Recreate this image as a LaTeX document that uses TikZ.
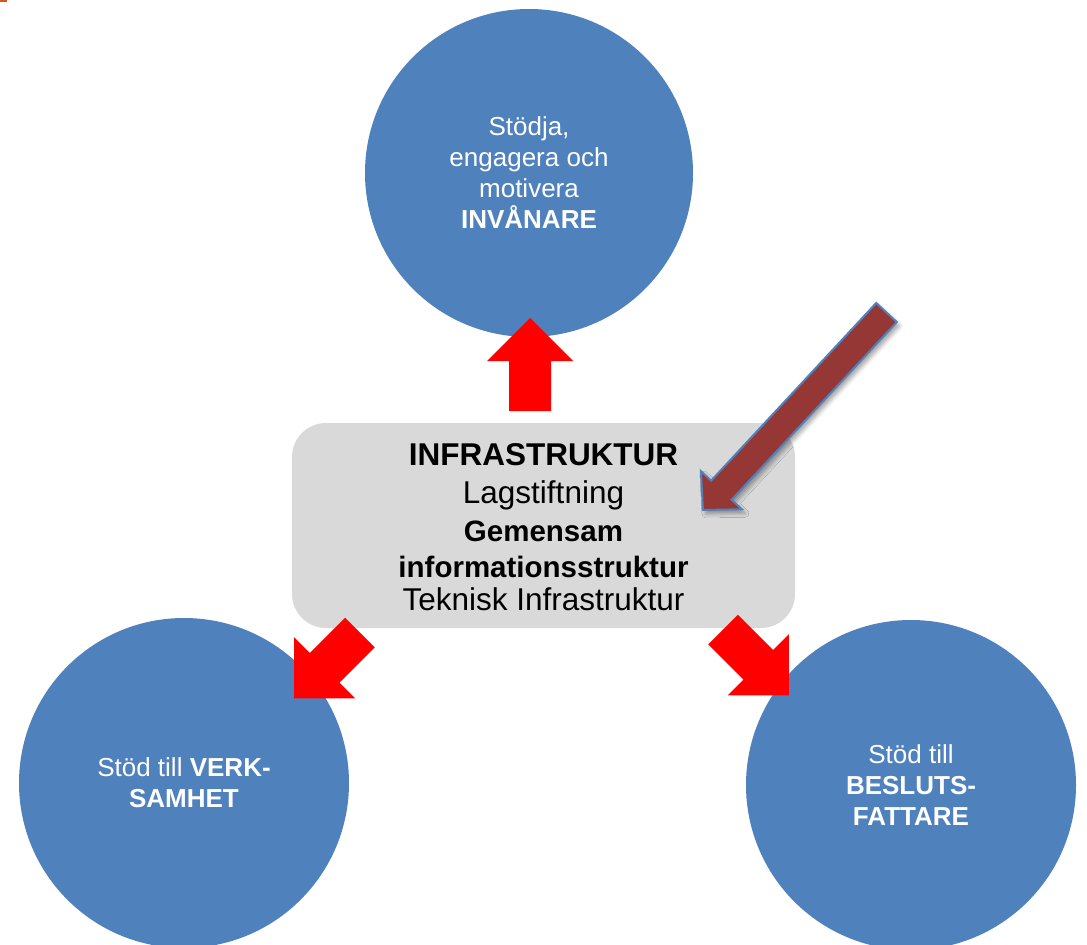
\documentclass[tikz,border=0pt]{standalone}
\usepackage{fontspec}
\setmainfont{Liberation Sans}
\usetikzlibrary{shadows.blur}
\definecolor{bubbleblue}{HTML}{4F81BD}
\definecolor{boxgray}{HTML}{D9D9D9}
\definecolor{arrowred}{HTML}{FF0000}
\definecolor{darkred}{HTML}{953735}
\definecolor{markorange}{HTML}{D55519}
\tikzset{
  bubble/.style={circle, fill=bubbleblue, draw=none, minimum size=330pt, inner sep=0pt,
    text=white, align=center, font=\fontsize{26}{31}\selectfont},
  infobox/.style={rectangle, rounded corners=34pt, fill=boxgray, draw=none,
    minimum width=503pt, minimum height=205pt, inner sep=0pt, align=center,
    font=\fontsize{31.5}{32}\selectfont},
  redarrow/.style={fill=arrowred, draw=none},
  darkarrow/.style={fill=darkred, draw=bubbleblue, line width=2pt, line join=miter,
    blur shadow={shadow xshift=3pt, shadow yshift=-4pt, shadow blur radius=4pt, shadow opacity=35}}
}
\newcommand{\myblockarrow}[1]{%
  \path[redarrow] (0,-21) -- (50,-21) -- (50,-43) -- (93,0) -- (50,43) -- (50,21) -- (0,21) -- cycle;}
\newcommand{\smallbold}[1]{{\fontsize{29.5}{32}\selectfont\textbf{#1}}}
\begin{document}
\begin{tikzpicture}[x=1pt, y=-1pt]
\useasboundingbox (0,0) rectangle (1087,945);
\fill[markorange] (0,0) rectangle (7,2);
% circles
\node[bubble, minimum size=328pt] (inv) at (529,173) {Stödja,\\engagera och\\motivera\\\textbf{INVÅNARE}};
\node[bubble] (verk) at (184,783) {Stöd till \textbf{VERK-}\\\textbf{SAMHET}};
\node[bubble] (beslut) at (911,785) {Stöd till\\\textbf{BESLUTS-}\\\textbf{FATTARE}};
% central box
\node[infobox] (infra) at (543.5,525.5) {};
\node[align=center, inner sep=0pt, font=\fontsize{31.5}{32}\selectfont] (infratext) at (543.5,527.5) {\textbf{INFRASTRUKTUR}\\[6pt]Lagstiftning\\[6pt]\smallbold{Gemensam}\\[4pt]\smallbold{informationsstruktur}\\[1pt]Teknisk Infrastruktur};
% red block arrows
\begin{scope}[shift={(530,411)}, rotate=90] \myblockarrow{} \end{scope}
\begin{scope}[shift={(360,632.5)}, rotate=225] \myblockarrow{} \end{scope}
\begin{scope}[shift={(723,629.5)}, rotate=-45] \myblockarrow{} \end{scope}
% dark red arrow
\begin{scope}[shift={(886.5,312.5)}, rotate=227.1]
  \path[darkarrow] (0,-14) -- (242.6,-14) -- (242.6,-28) -- (269.6,0) -- (242.6,28) -- (242.6,14) -- (0,14) -- cycle;
\end{scope}
\end{tikzpicture}
\end{document}
